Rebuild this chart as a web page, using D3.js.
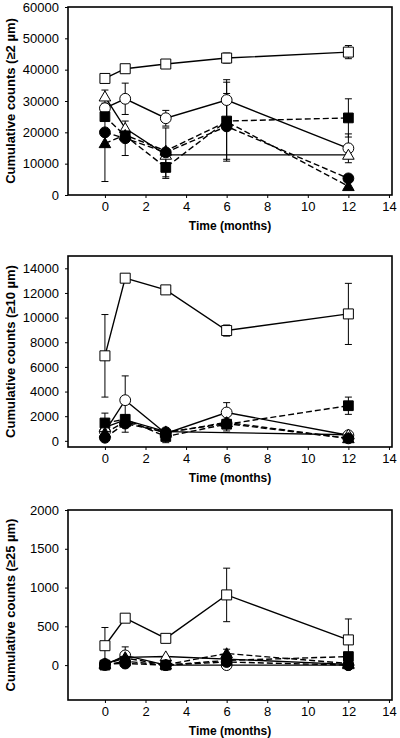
<!DOCTYPE html>
<html>
<head>
<meta charset="utf-8">
<script src="https://cdn.jsdelivr.net/npm/d3@7"></script>
<style>
  html, body { margin: 0; padding: 0; background: #fff; }
  svg { display: block; }
  text { font-family: Arial, "Liberation Sans", sans-serif; fill: #000; }
</style>
</head>
<body>
<svg id="chart" width="400" height="738"></svg>
<script>
// ---------- DATA ----------
const months = [0, 1, 3, 6, 12];
const xTickValues = [0, 2, 4, 6, 8, 10, 12, 14];
const xTitle = "Time (months)";

// Panel 1: >=2 µm
const p1Title = "Cumulative counts (≥2 µm)";
const p1Ticks = [0, 10000, 20000, 30000, 40000, 50000, 60000];
const p1OpenSquare = [37200, 40300, 41800, 43700, 45600];
const p1OpenSquareErr = [900, 600, 500, 1600, 2100];
const p1OpenCircle = [27700, 30700, 24500, 30300, 14900];
const p1OpenCircleErr = [0, 5000, 2500, 6500, 4600];
const p1OpenTriangle = [31400, 21300, 12800, null, 12800];
const p1OpenTriangleErr = [2100, 0, 0, null, 0];
const p1FilledSquare = [25000, 18900, 8800, 23600, 24600];
const p1FilledSquareErr = [0, 0, 3500, 0, 6100];
const p1FilledCircle = [20000, 18100, 13600, 21900, 5300];
const p1FilledCircleErr = [0, 5500, 7800, 10500, 0];
const p1FilledTriangle = [16500, 19100, 14100, 23400, 2800];
const p1FilledTriangleErr = [12200, 0, 0, 12600, 0];

// Panel 2: >=10 µm
const p2Title = "Cumulative counts (≥10 µm)";
const p2Ticks = [0, 2000, 4000, 6000, 8000, 10000, 12000, 14000];
const p2OpenSquare = [6900, 13200, 12250, 8950, 10300];
const p2OpenSquareErr = [3350, 0, 0, 450, 2480];
const p2OpenCircle = [750, 3300, 600, 2300, 450];
const p2OpenCircleErr = [0, 1970, 0, 800, 0];
const p2OpenTriangle = [1100, 1700, 750, null, 500];
const p2OpenTriangleErr = [0, 0, 0, null, 0];
const p2FilledSquare = [1450, 1750, 350, 1350, 2850];
const p2FilledSquareErr = [800, 0, 500, 0, 700];
const p2FilledCircle = [250, 1400, 700, 1400, 200];
const p2FilledCircleErr = [0, 700, 0, 600, 0];
const p2FilledTriangle = [650, 1550, 650, 1500, 200];
const p2FilledTriangleErr = [0, 0, 0, 0, 0];

// Panel 3: >=25 µm
const p3Title = "Cumulative counts (≥25 µm)";
const p3Ticks = [0, 500, 1000, 1500, 2000];
const p3OpenSquare = [250, 605, 345, 905, 325];
const p3OpenSquareErr = [235, 0, 0, 345, 270];
const p3OpenCircle = [0, 125, 0, 0, 0];
const p3OpenCircleErr = [0, 110, 0, 0, 0];
const p3OpenTriangle = [20, 100, 110, null, 10];
const p3OpenTriangleErr = [0, 0, 0, null, 0];
const p3FilledSquare = [0, 50, 0, 60, 110];
const p3FilledSquareErr = [0, 0, 0, 0, 0];
const p3FilledCircle = [15, 20, 0, 40, 0];
const p3FilledCircleErr = [0, 0, 0, 0, 0];
const p3FilledTriangle = [10, 90, 5, 150, 20];
const p3FilledTriangleErr = [0, 0, 0, 55, 0];

// ---------- STYLE / LAYOUT ----------
const seriesStyles = [
  { key: "openSquare",     symbol: d3.symbolSquare,   size: 100, fill: "#fff", dash: null },
  { key: "openCircle",     symbol: d3.symbolCircle,   size: 92,  fill: "#fff", dash: null },
  { key: "openTriangle",   symbol: d3.symbolTriangle, size: 58,  fill: "#fff", dash: null },
  { key: "filledSquare",   symbol: d3.symbolSquare,   size: 95,  fill: "#000", dash: "6,3" },
  { key: "filledCircle",   symbol: d3.symbolCircle,   size: 92,  fill: "#000", dash: "6,3" },
  { key: "filledTriangle", symbol: d3.symbolTriangle, size: 58,  fill: "#000", dash: "6,3" }
];

const panels = [
  { title: p1Title, ticks: p1Ticks, domain: [0, 60000], top: 7, bottom: 195,
    values: [p1OpenSquare, p1OpenCircle, p1OpenTriangle, p1FilledSquare, p1FilledCircle, p1FilledTriangle],
    errs: [p1OpenSquareErr, p1OpenCircleErr, p1OpenTriangleErr, p1FilledSquareErr, p1FilledCircleErr, p1FilledTriangleErr] },
  { title: p2Title, ticks: p2Ticks, domain: [-500, 15000], top: 256, bottom: 447,
    values: [p2OpenSquare, p2OpenCircle, p2OpenTriangle, p2FilledSquare, p2FilledCircle, p2FilledTriangle],
    errs: [p2OpenSquareErr, p2OpenCircleErr, p2OpenTriangleErr, p2FilledSquareErr, p2FilledCircleErr, p2FilledTriangleErr] },
  { title: p3Title, ticks: p3Ticks, domain: [-450, 2000], top: 510, bottom: 700,
    values: [p3OpenSquare, p3OpenCircle, p3OpenTriangle, p3FilledSquare, p3FilledCircle, p3FilledTriangle],
    errs: [p3OpenSquareErr, p3OpenCircleErr, p3OpenTriangleErr, p3FilledSquareErr, p3FilledCircleErr, p3FilledTriangleErr] }
];

const left = 68, right = 392;
const svg = d3.select("#chart");
const x = d3.scaleLinear().domain([-1.82, 14.15]).range([left, right]);

panels.forEach(p => {
  const y = d3.scaleLinear().domain(p.domain).range([p.bottom, p.top]);
  const g = svg.append("g");

  // Y axis
  const yAxis = d3.axisLeft(y).tickValues(p.ticks).tickSize(3).tickPadding(6).tickFormat(d3.format("d"));
  const ya = g.append("g").attr("transform", `translate(${left},0)`).call(yAxis);
  ya.select(".domain").remove();
  ya.selectAll("line").attr("stroke", "#000");
  ya.selectAll("text").style("font-size", "13px").attr("font-family", "Arial, 'Liberation Sans', sans-serif");

  // X axis
  const xAxis = d3.axisBottom(x).tickValues(xTickValues).tickSize(3).tickPadding(4).tickFormat(d3.format("d"));
  const xa = g.append("g").attr("transform", `translate(0,${p.bottom})`).call(xAxis);
  xa.select(".domain").remove();
  xa.selectAll("line").attr("stroke", "#000");
  xa.selectAll("text").style("font-size", "13px").attr("font-family", "Arial, 'Liberation Sans', sans-serif");

  // Series data
  const series = seriesStyles.map((s, i) => ({
    style: s,
    pts: months.map((m, j) => ({ t: m, v: p.values[i][j], e: p.errs[i][j] })).filter(d => d.v !== null)
  }));

  const line = d3.line().x(d => x(d.t)).y(d => y(d.v));

  // Lines
  g.append("g").selectAll("path").data(series).join("path")
    .attr("d", s => line(s.pts))
    .attr("fill", "none")
    .attr("stroke", "#000")
    .attr("stroke-width", 1.4)
    .attr("stroke-dasharray", s => s.style.dash);

  // Error bars
  const errPts = series.flatMap(s => s.pts.filter(d => d.e > 0));
  const eg = g.append("g").attr("stroke", "#000").attr("stroke-width", 1);
  eg.selectAll("line.v").data(errPts).join("line").attr("class", "v")
    .attr("x1", d => x(d.t)).attr("x2", d => x(d.t))
    .attr("y1", d => y(d.v - d.e)).attr("y2", d => y(d.v + d.e));
  eg.selectAll("line.cu").data(errPts).join("line").attr("class", "cu")
    .attr("x1", d => x(d.t) - 3.5).attr("x2", d => x(d.t) + 3.5)
    .attr("y1", d => y(d.v + d.e)).attr("y2", d => y(d.v + d.e));
  eg.selectAll("line.cd").data(errPts).join("line").attr("class", "cd")
    .attr("x1", d => x(d.t) - 3.5).attr("x2", d => x(d.t) + 3.5)
    .attr("y1", d => y(d.v - d.e)).attr("y2", d => y(d.v - d.e));

  // Markers
  series.forEach(s => {
    const sym = d3.symbol().type(s.style.symbol).size(s.style.size);
    g.append("g").selectAll("path").data(s.pts).join("path")
      .attr("transform", d => `translate(${x(d.t)},${y(d.v) + (s.style.symbol === d3.symbolTriangle ? 1 : 0)})`)
      .attr("d", sym)
      .attr("fill", s.style.fill)
      .attr("stroke", "#000")
      .attr("stroke-width", 1);
  });

  // Frame
  g.append("rect")
    .attr("x", left).attr("y", p.top)
    .attr("width", right - left).attr("height", p.bottom - p.top)
    .attr("fill", "none").attr("stroke", "#000").attr("stroke-width", 1.6);

  // Y title
  g.append("text")
    .attr("transform", `translate(10,${(p.top + p.bottom) / 2}) rotate(-90)`)
    .attr("text-anchor", "middle")
    .attr("dominant-baseline", "central")
    .style("font-size", "13px").style("font-weight", "bold")
    .text(p.title);

  // X title
  g.append("text")
    .attr("x", (left + right) / 2).attr("y", p.bottom + 35)
    .attr("text-anchor", "middle")
    .style("font-size", "12px").style("font-weight", "bold")
    .text(xTitle);
});
</script>
</body>
</html>
